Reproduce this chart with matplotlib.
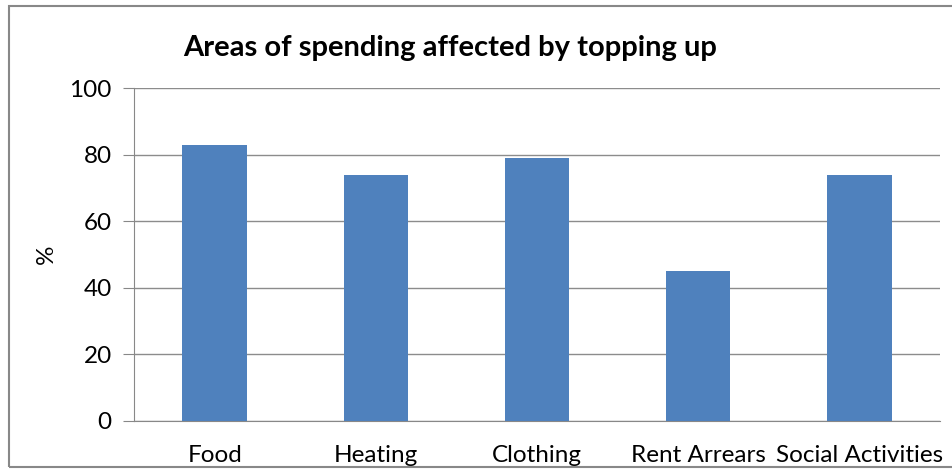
import matplotlib
matplotlib.use("Agg")
import matplotlib.pyplot as plt
from matplotlib.patches import Rectangle

categories = ["Food", "Heating", "Clothing", "Rent Arrears", "Social Activities"]
percentages = [83, 74, 79, 45, 74]
y_ticks = [0, 20, 40, 60, 80, 100]

plt.rcParams['font.family'] = ['Lato', 'DejaVu Sans']

fig = plt.figure(figsize=(9.52, 4.75), dpi=100)
ax = fig.add_axes([0.1408, 0.1137, 0.8466, 0.701])

# outer chart border (as in the spreadsheet chart)
fig.patches.append(Rectangle((9 / 952, 8 / 475), 1.2, 461 / 475, transform=fig.transFigure,
                             fill=False, edgecolor="#888888", linewidth=1.5))

x = range(len(categories))
ax.bar(x, percentages, width=0.4, color="#4F81BD", zorder=3)

ax.set_xlim(-0.5, len(categories) - 0.5)
ax.set_ylim(0, 100)
ax.set_yticks(y_ticks)
ax.set_xticks(list(x))
ax.set_xticklabels(categories, fontsize=17.5)
ax.tick_params(axis="y", labelsize=17.5, length=8, color="#888888", pad=8)
ax.tick_params(axis="x", length=0, pad=17)
ax.yaxis.grid(True, color="#8c8c8c", linewidth=1, zorder=0)
ax.set_axisbelow(True)

for side in ["top", "right"]:
    ax.spines[side].set_visible(False)
ax.spines["left"].set_color("#888888")
ax.spines["bottom"].set_color("#888888")

ax.set_ylabel("%", fontsize=17.5)
ax.yaxis.set_label_coords((57 - 134) / 806, 0.5)
fig.text(450 / 952, 1 - 48 / 475, "Areas of spending affected by topping up",
         ha="center", va="center", fontsize=21, fontweight="bold")

fig.savefig("out.png", dpi=100)
